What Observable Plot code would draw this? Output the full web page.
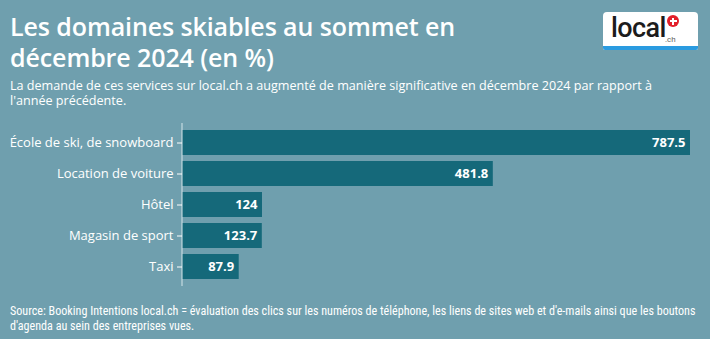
<!DOCTYPE html>
<html>
<head>
<meta charset="utf-8">
<script src="https://cdn.jsdelivr.net/npm/d3@7"></script>
<script src="https://cdn.jsdelivr.net/npm/@observablehq/plot@0.6"></script>
<style>
  html, body { margin: 0; padding: 0; }
  body { width: 710px; height: 339px; background: #6f9fae; font-family: "Open Sans", Roboto, sans-serif; color: #fff; position: relative; overflow: hidden; }
  #title { position: absolute; left: 10px; top: 11px; width: 580px; font-size: 25px; font-weight: 600; line-height: 31px; white-space: nowrap; letter-spacing: -0.1px; }
  #subtitle { position: absolute; left: 10px; top: 79px; width: 700px; font-size: 12.6px; line-height: 14.5px; white-space: nowrap; }
  #chart { position: absolute; left: 0; top: 118px; }
  #caption { position: absolute; left: 10px; top: 304px; width: 700px; font-family: Roboto, sans-serif; font-stretch: condensed; font-size: 12.1px; line-height: 14.5px; white-space: nowrap; }
  #logo { position: absolute; left: 603px; top: 12px; width: 95px; height: 38px; background: #fff; border-radius: 4px 4px 2px 2px; overflow: hidden; }
  #logo .txt { position: absolute; left: 8px; top: 0px; font-size: 27px; font-weight: 500; color: #1c1c1c; letter-spacing: -0.6px; font-family: Roboto, sans-serif; line-height: 32px; }
  #logo .ch { position: absolute; left: 62px; top: 23px; font-size: 8px; color: #666; font-family: Roboto, sans-serif; }
  #logo .dot { position: absolute; left: 64px; top: 3px; width: 12px; height: 12px; border-radius: 50%; background: #e3202a; }
  #logo .dot::before { content: ""; position: absolute; left: 5px; top: 2.5px; width: 2px; height: 7px; background: #fff; }
  #logo .dot::after { content: ""; position: absolute; left: 2.5px; top: 5px; width: 7px; height: 2px; background: #fff; }
  #logo .bar { position: absolute; left: 0; bottom: 0; width: 95px; height: 4px; background: #2a9be0; }
</style>
</head>
<body>
<div id="title">Les domaines skiables au sommet en<br>décembre 2024 (en %)</div>
<div id="logo"><span class="txt">local</span><span class="dot"></span><span class="ch">.ch</span><span class="bar"></span></div>
<div id="subtitle">La demande de ces services sur local.ch a augmenté de manière significative en décembre 2024 par rapport à<br>l'année précédente.</div>
<div id="chart"></div>
<div id="caption">Source: Booking Intentions local.ch = évaluation des clics sur les numéros de téléphone, les liens de sites web et d'e-mails ainsi que les boutons<br>d'agenda au sein des entreprises vues.</div>
<script>
const categories = ["École de ski, de snowboard", "Location de voiture", "Hôtel", "Magasin de sport", "Taxi"];
const values = [787.5, 481.8, 124, 123.7, 87.9];
const labels = ["787.5", "481.8", "124", "123.7", "87.9"];

const data = categories.map((c, i) => ({category: c, value: values[i], label: labels[i]}));

const chart = Plot.plot({
  width: 710,
  height: 170,
  marginLeft: 182,
  marginRight: 20,
  marginTop: 5,
  marginBottom: 2,
  style: {background: "transparent", color: "#fff", fontFamily: "'Open Sans', sans-serif", fontSize: "13px"},
  x: {domain: [0, 787.5], axis: null},
  y: {domain: categories, paddingInner: 0.18, paddingOuter: 0.15, label: null},
  marks: [
    Plot.barX(data, {x: "value", y: "category", fill: "#15697a"}),
    Plot.ruleX([0], {stroke: "#d6e6ea", strokeWidth: 1, dx: -0.5}),
    Plot.text(data, {x: "value", y: "category", text: "label", textAnchor: "end", dx: -5, fill: "#fff", fontWeight: "bold", fontSize: 13}),
    Plot.axisY({tickSize: 5, tickPadding: 4, stroke: "#fff", fontSize: 13, label: null})
  ]
});
document.getElementById("chart").appendChild(chart);
</script>
</body>
</html>
